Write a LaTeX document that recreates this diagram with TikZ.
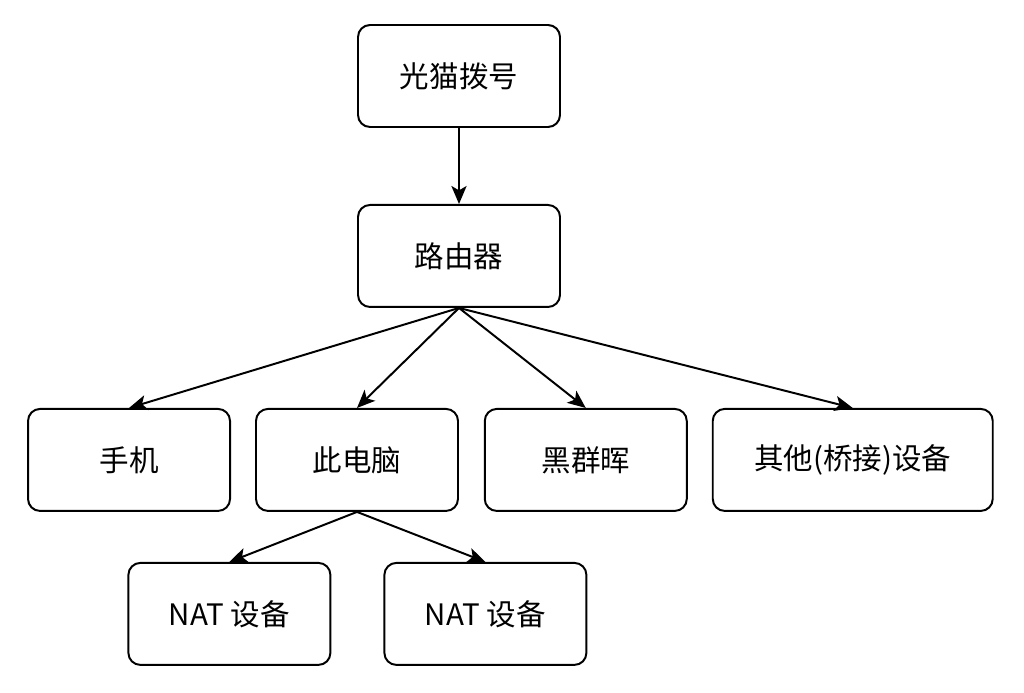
\documentclass[tikz,border=0pt]{standalone}
\usepackage{fontspec}
\setmainfont{Noto Sans CJK SC}
\usepackage{tikz}
\usetikzlibrary{positioning,arrows.meta}

\tikzset{
  box/.style={draw, line width=1.4pt, rounded corners=0.3cm, minimum width=5.05cm,
    minimum height=2.55cm, inner sep=0pt, font=\fontsize{21}{25}\selectfont},
  link/.style={line width=1.4pt, -{Stealth[length=0.45cm, width=0.38cm, inset=0.11cm]}}
}

\begin{document}
\begin{tikzpicture}
	\useasboundingbox (0,0) rectangle (25.6,-17.325);

	\node[box] (modem) at (11.475,-1.9) {光猫拨号};
	\node[box, below = 1.9cm of modem] (router) {路由器};
	\node[box, below = 2.5cm of router, xshift = -2.55cm] (pc) {此电脑};
	\node[box, left = 0.6cm of pc] (phone) {手机};
	\node[box, right = 0.62cm of pc] (nas) {黑群晖};
	\node[box, right = 0.6cm of nas, minimum width = 7.0cm] (other) {其他(桥接)设备};
	\node[box, below = 1.25cm of pc, xshift = -3.19cm] (nat1) {NAT 设备};
	\node[box, below = 1.25cm of pc, xshift = 3.21cm] (nat2) {NAT 设备};

	% edges
	\draw[link] (modem) -- (router);
	\draw[link] (router.south) -- (phone.north);
	\draw[link] (router.south) -- (pc.north);
	\draw[link] (router.south) -- (nas.north);
	\draw[link] (router.south) -- (other.north);
	\draw[link] (pc.south) -- (nat1.north);
	\draw[link] (pc.south) -- (nat2.north);
\end{tikzpicture}
\end{document}
